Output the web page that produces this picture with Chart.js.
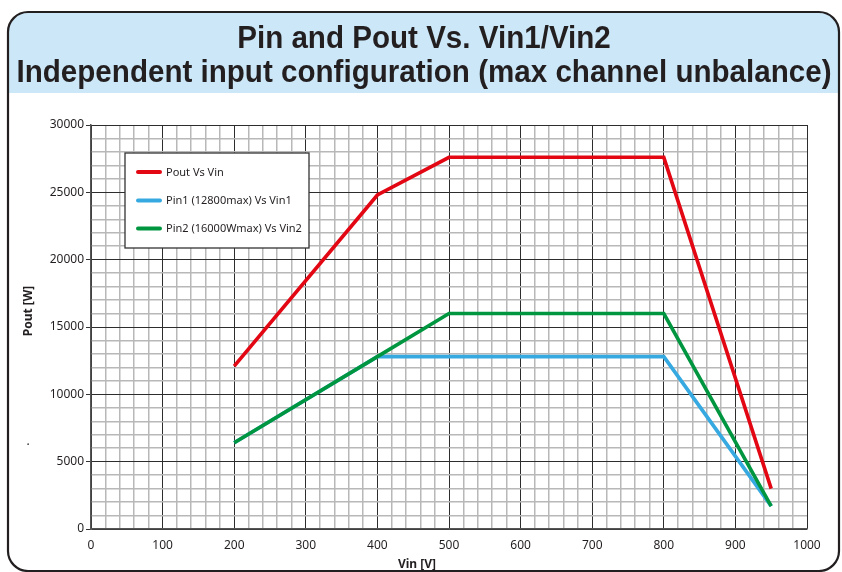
<!DOCTYPE html>
<html>
<head>
<meta charset="utf-8">
<script src="https://cdn.jsdelivr.net/npm/chart.js@4.4.1/dist/chart.umd.min.js"></script>
<style>
  html, body { margin: 0; padding: 0; background: #fff; }
  #wrap { width: 842px; height: 572px; }
</style>
</head>
<body>
<div id="wrap"><canvas id="theChart" width="842" height="572"></canvas></div>
<script>
// Pout and Pin curves vs input voltage
const poutVin = [200, 400, 500, 800, 950]
const poutW = [12100, 24800, 27600, 27600, 3000]

const pin1Vin = [200, 400, 800, 950]
const pin1W = [6400, 12800, 12800, 1700]

const pin2Vin = [200, 400, 500, 800, 950]
const pin2W = [6400, 12800, 16000, 16000, 1700]

const seriesNames = ["Pout Vs Vin", "Pin1 (12800max) Vs Vin1", "Pin2 (16000Wmax) Vs Vin2"]
const seriesColors = ["#e30613", "#36a9e1", "#009640"]

const titleLines = ["Pin and Pout Vs. Vin1/Vin2", "Independent input configuration (max channel unbalance)"]
const xTitle = "Vin [V]"
const yTitle = "Pout [W]"

const xTicks = [0, 100, 200, 300, 400, 500, 600, 700, 800, 900, 1000]
const yTicks = [0, 5000, 10000, 15000, 20000, 25000, 30000]

const ink = "#231f20"
const txtFont = "'Noto Sans', 'Open Sans', sans-serif"

const pts = (xs, ys) => xs.map((x, i) => ({ x: x, y: ys[i] }))

function roundRect(ctx, x, y, w, h, r) {
  ctx.beginPath()
  ctx.moveTo(x + r, y)
  ctx.lineTo(x + w - r, y)
  ctx.arcTo(x + w, y, x + w, y + r, r)
  ctx.lineTo(x + w, y + h - r)
  ctx.arcTo(x + w, y + h, x + w - r, y + h, r)
  ctx.lineTo(x + r, y + h)
  ctx.arcTo(x, y + h, x, y + h - r, r)
  ctx.lineTo(x, y + r)
  ctx.arcTo(x, y, x + r, y, r)
  ctx.closePath()
}

// rounded frame, blue header, titles and the boxed legend
const framePlugin = {
  id: "frame",
  beforeDraw(chart) {
    const ctx = chart.ctx
    ctx.save()
    ctx.fillStyle = "#fff"
    ctx.fillRect(0, 0, chart.width, chart.height)
    roundRect(ctx, 8, 12, 831, 559, 20)
    ctx.save()
    ctx.clip()
    ctx.fillStyle = "#cce8f8"
    ctx.fillRect(0, 0, chart.width, 93)
    ctx.restore()
    ctx.lineWidth = 2.2
    ctx.strokeStyle = ink
    ctx.stroke()
    ctx.restore()
  },
  afterDraw(chart) {
    const ctx = chart.ctx
    ctx.save()
    // titles, squeezed to a condensed look
    ctx.fillStyle = ink
    ctx.font = "bold 31px 'Liberation Sans', Arial, sans-serif"
    ctx.textAlign = "center"
    ctx.textBaseline = "alphabetic"
    const w2 = ctx.measureText(titleLines[1]).width
    const sx = 815 / w2
    const base = [48, 82]
    titleLines.forEach((t, i) => {
      ctx.save()
      ctx.translate(424, base[i])
      ctx.scale(sx, 1)
      ctx.fillText(t, 0, 0)
      ctx.restore()
    })

    // axis titles
    ctx.font = "bold 12px " + txtFont
    ctx.textBaseline = "middle"
    ctx.fillText(xTitle, 417, 565)
    ctx.save()
    ctx.translate(29, 311)
    ctx.rotate(-Math.PI / 2)
    ctx.fillText(yTitle, 0, 0)
    ctx.restore()
    ctx.font = "12px " + txtFont
    ctx.fillText(".", 28, 442)

    // legend box
    ctx.fillStyle = "#fff"
    ctx.fillRect(125, 153, 184, 95)
    ctx.lineWidth = 1.3
    ctx.strokeStyle = "#333"
    ctx.strokeRect(125, 153, 184, 95)
    const rows = [172, 200.5, 228.5]
    ctx.font = "11px " + txtFont
    ctx.textAlign = "left"
    chart.data.datasets.forEach((ds, i) => {
      ctx.beginPath()
      ctx.lineCap = "round"
      ctx.lineWidth = 4
      ctx.strokeStyle = ds.borderColor
      ctx.moveTo(138, rows[i])
      ctx.lineTo(160, rows[i])
      ctx.stroke()
      ctx.fillStyle = ink
      ctx.fillText(ds.label, 166, rows[i] + 0.5)
    })
    ctx.restore()
  }
}

const isMajor = (ctx, step) => ctx.tick && ctx.tick.value % step === 0

const canvas = document.getElementById("theChart")
new Chart(canvas, {
  type: "line",
  data: {
    datasets: [
      { label: seriesNames[0], data: pts(poutVin, poutW), borderColor: seriesColors[0], order: 0 },
      { label: seriesNames[1], data: pts(pin1Vin, pin1W), borderColor: seriesColors[1], order: 2 },
      { label: seriesNames[2], data: pts(pin2Vin, pin2W), borderColor: seriesColors[2], order: 1 }
    ]
  },
  options: {
    responsive: false,
    animation: false,
    events: [],
    layout: { padding: { left: 0, top: 125, right: 35, bottom: 0 } },
    elements: {
      line: { borderWidth: 3.6, tension: 0, borderJoinStyle: "miter" },
      point: { radius: 0 }
    },
    plugins: { legend: { display: false }, tooltip: { enabled: false }, title: { display: false } },
    scales: {
      x: {
        type: "linear",
        min: 0,
        max: 1000,
        afterFit(scale) { scale.height = 43 },
        afterBuildTicks(scale) {
          scale.ticks = []
          for (let v = 0; v <= 1000; v += 20) scale.ticks.push({ value: v })
        },
        ticks: {
          autoSkip: false,
          maxRotation: 0,
          padding: 9,
          color: ink,
          font: { family: txtFont, size: 12 },
          callback: v => (xTicks.includes(v) ? String(v) : "")
        },
        grid: {
          drawTicks: false,
          color: c => (isMajor(c, 100) ? "#2d2d2d" : "#b8b8b8"),
          lineWidth: c => (isMajor(c, 100) ? 1 : 1.5)
        },
        border: { display: true, color: "#555", width: 1.5 }
      },
      y: {
        min: 0,
        max: 30000,
        afterFit(scale) { scale.width = 91 },
        afterBuildTicks(scale) {
          scale.ticks = []
          for (let v = 0; v <= 30000; v += 1000) scale.ticks.push({ value: v })
        },
        ticks: {
          autoSkip: false,
          padding: 2,
          color: ink,
          font: { family: txtFont, size: 12 },
          callback: v => (yTicks.includes(v) ? String(v) : "")
        },
        grid: {
          tickLength: 5,
          tickColor: c => (isMajor(c, 5000) ? "#333" : "rgba(0,0,0,0)"),
          color: c => (isMajor(c, 5000) ? "#2d2d2d" : "#b8b8b8"),
          lineWidth: c => (isMajor(c, 5000) ? 1 : 1.5)
        },
        border: { display: true, color: "#555", width: 1.5 }
      }
    }
  },
  plugins: [framePlugin]
})
</script>
</body>
</html>
